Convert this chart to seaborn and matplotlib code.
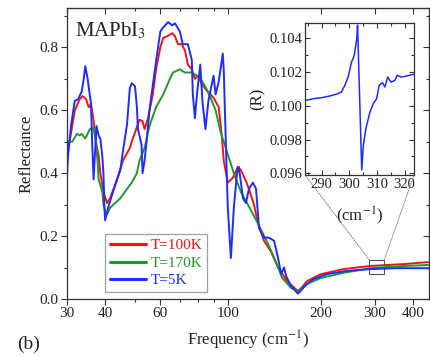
import numpy as np
import pandas as pd
import matplotlib
matplotlib.use("Agg")
import matplotlib.pyplot as plt
import seaborn as sns
from matplotlib.patches import Rectangle, ConnectionPatch
from matplotlib.ticker import FixedLocator, NullFormatter, MultipleLocator

# ---- reflectance spectra of MAPbI3 (frequency in cm^-1) ----
freq_100K = [30, 30.7, 31.8, 33.0, 33.7, 34.6, 35.3, 35.9, 36.5, 37.4, 38.0, 38.5,
             39.4, 40.5, 41.4, 43.6, 45.6, 48.0, 48.7, 51.6, 52.8, 53.6, 55.0, 57.0,
             58.4, 60.3, 61.6, 63.4, 65.9, 67.3, 68.8, 70.8, 72.5, 74.1, 76.3, 78.1,
             79.9, 82.6, 85.8, 89.8, 93.3, 95.5, 96.9, 99.9, 103.7, 107.7, 110.2,
             114.4, 117.0, 121.5, 125.2, 131.0, 138.1, 145.5, 155.6, 168.9, 175.0,
             180.7, 200.6, 237, 290, 373, 444, 450]
r_100K = [0.45, 0.51, 0.60, 0.635, 0.645, 0.635, 0.61, 0.62, 0.575, 0.49, 0.455, 0.40,
          0.34, 0.305, 0.32, 0.38, 0.44, 0.48, 0.50, 0.57, 0.565, 0.54, 0.575, 0.65,
          0.73, 0.80, 0.83, 0.835, 0.845, 0.835, 0.81, 0.81, 0.79, 0.745, 0.73, 0.70,
          0.71, 0.68, 0.66, 0.64, 0.61, 0.52, 0.44, 0.37, 0.385, 0.42, 0.41,
          0.375, 0.35, 0.30, 0.24, 0.185, 0.15, 0.10, 0.057, 0.025, 0.04,
          0.057, 0.079, 0.095, 0.105, 0.111, 0.117, 0.117]

freq_170K = [30, 31.2, 32.3, 33.0, 33.5, 34.4, 35.6, 36.5, 37.1, 37.7, 38.0, 39.1,
             39.4, 39.9, 40.5, 41.4, 43.0, 44.7, 47.0, 48.7, 50.6, 51.6, 53.6, 55.6,
             58.4, 61.6, 64.8, 66.3, 69.8, 72.5, 76.3, 79.3, 81.3, 84.5, 87.8, 91.2,
             94.7, 98.4, 100.6, 104.5, 110.2, 116.1, 125.2, 135.0, 140.0, 145.5, 150,
             160.4, 168.9, 180.7, 200.6, 237, 290, 373, 444, 450]
r_170K = [0.50, 0.50, 0.525, 0.52, 0.525, 0.51, 0.54, 0.545, 0.51, 0.44, 0.38, 0.34,
          0.30, 0.28, 0.27, 0.29, 0.305, 0.32, 0.35, 0.37, 0.40, 0.44, 0.48, 0.55,
          0.61, 0.65, 0.70, 0.72, 0.73, 0.72, 0.72, 0.71, 0.70, 0.675, 0.64, 0.60,
          0.53, 0.48, 0.45, 0.40, 0.34, 0.30, 0.24, 0.175, 0.14, 0.10, 0.067,
          0.035, 0.025, 0.048, 0.067, 0.083, 0.098, 0.105, 0.108, 0.108]

freq_5K = [30, 30.2, 30.9, 31.8, 32.6, 33.5, 34.0, 34.4, 35.0, 35.9, 36.2, 36.6,
           37.4, 38.0, 38.5, 39.1, 39.4, 39.7, 39.9, 40.8, 42.3, 44.7, 45.6, 47.0,
           48.0, 48.7, 49.9, 50.6, 51.0, 52.4, 52.8, 53.6, 54.4, 55.6, 57.0, 58.4,
           60.3, 61.2, 63.9, 65.9, 67.3, 69.8, 71.3, 74.1, 76.3, 76.9, 78.1, 79.3,
           81.3, 82.6, 84.5, 86.4, 89.8, 91.2, 93.3, 96.2, 96.9, 98.4, 99.9, 102.2,
           104.5, 107.0, 108.5, 111.9, 114.4, 117.0, 120.6, 123.4, 126.2, 131.0,
           136.0, 141.2, 145.5, 148.8, 152.2, 154.5, 160.4, 168.9, 179.4, 189.5,
           209.5, 242, 290, 353, 444, 450]
r_5K = [0.39, 0.45, 0.55, 0.63, 0.635, 0.66, 0.70, 0.74, 0.70, 0.62, 0.50, 0.38,
        0.55, 0.52, 0.51, 0.45, 0.40, 0.29, 0.25, 0.29, 0.34, 0.41, 0.47, 0.555,
        0.67, 0.686, 0.676, 0.61, 0.54, 0.49, 0.40, 0.44, 0.50, 0.60, 0.68, 0.755,
        0.85, 0.86, 0.88, 0.87, 0.876, 0.85, 0.81, 0.81, 0.76, 0.65, 0.575, 0.65,
        0.745, 0.63, 0.54, 0.63, 0.71, 0.65, 0.69, 0.78, 0.73, 0.50, 0.29, 0.13,
        0.29, 0.40, 0.42, 0.32, 0.305, 0.35, 0.37, 0.35, 0.225, 0.195,
        0.195, 0.185, 0.13, 0.08, 0.10, 0.073, 0.041, 0.017, 0.045, 0.063,
        0.079, 0.089, 0.095, 0.098, 0.098, 0.098]

# ---- zoomed 5 K spectrum around the 305 cm^-1 feature ----
inset_freq = [284.3, 287.0, 290.0, 293.0, 296.0, 297.2, 298.4, 299.6, 300.8, 301.8,
              302.7, 303.0, 304.5, 305.1, 306.0, 307.5, 308.7, 309.9, 310.8, 312.0,
              312.9, 313.9, 315.1, 316.5, 317.3, 318.9, 320.7, 322.5, 323.4]
inset_r = [0.10032, 0.10042, 0.10048, 0.10058, 0.10072, 0.10082, 0.10121, 0.10170,
           0.10258, 0.10298, 0.10396, 0.10478, 0.09620, 0.09767, 0.09865, 0.09964,
           0.10013, 0.10042, 0.10121, 0.10137, 0.10111, 0.10170, 0.10140, 0.10150,
           0.10180, 0.10170, 0.10176, 0.10184, 0.10186]

labels = ["T=100K", "T=170K", "T=5K"]
colors = ["#f01414", "#1f9a2a", "#1e2cff"]
x_ticks = [30, 40, 60, 100, 200, 300, 400]
x_minor = [50, 70, 80, 90]

df = pd.concat([
    pd.DataFrame({"freq": freq_100K, "R": r_100K, "T": labels[0]}),
    pd.DataFrame({"freq": freq_170K, "R": r_170K, "T": labels[1]}),
    pd.DataFrame({"freq": freq_5K, "R": r_5K, "T": labels[2]}),
])

sns.set_style("ticks")
plt.rcParams["font.family"] = ["Liberation Serif", "DejaVu Serif"]
plt.rcParams["mathtext.fontset"] = "stix"
plt.rcParams["axes.edgecolor"] = "#333333"
plt.rcParams["xtick.color"] = "#333333"
plt.rcParams["ytick.color"] = "#333333"

fig = plt.figure(figsize=(4.31, 3.57), dpi=100)
ax = fig.add_axes([67 / 431, 1 - 299 / 357, 362 / 431, 291 / 357])

sns.lineplot(data=df, x="freq", y="R", hue="T", palette=dict(zip(labels, colors)),
             estimator=None, linewidth=1.4, ax=ax, legend=True)

ax.set_xscale("log")
ax.set_xlim(30, 450)
ax.set_ylim(0, 0.925)
ax.xaxis.set_major_locator(FixedLocator(x_ticks))
ax.set_xticklabels([str(t) for t in x_ticks])
ax.xaxis.set_minor_locator(FixedLocator(x_minor))
ax.xaxis.set_minor_formatter(NullFormatter())
ax.yaxis.set_major_locator(MultipleLocator(0.2))
ax.yaxis.set_minor_locator(MultipleLocator(0.1))
ax.set_yticks([0.0, 0.2, 0.4, 0.6, 0.8])
ax.set_yticklabels(["0.0", "0.2", "0.4", "0.6", "0.8"])
ax.tick_params(axis="both", which="major", direction="out", length=4, width=0.8,
               labelsize=11, pad=2, labelcolor="#222222")
ax.tick_params(axis="both", which="minor", direction="out", length=2.5, width=0.8)
for s in ax.spines.values():
    s.set_linewidth(0.9)

# mirrored inward ticks on top and right
top = ax.secondary_xaxis("top")
top.xaxis.set_major_locator(FixedLocator(x_ticks))
top.xaxis.set_minor_locator(FixedLocator(x_minor))
top.tick_params(which="both", direction="in", labeltop=False, length=4, width=0.8)
top.tick_params(which="minor", length=2.5)
right = ax.secondary_yaxis("right")
right.yaxis.set_major_locator(MultipleLocator(0.2))
right.yaxis.set_minor_locator(MultipleLocator(0.1))
right.tick_params(which="both", direction="in", labelright=False, length=4, width=0.8)
right.tick_params(which="minor", length=2.5)

ax.set_xlabel("Frequency (cm$^{-1}$)", fontsize=12, labelpad=6, color="#222222")
ax.set_ylabel("Reflectance", fontsize=12, labelpad=4, color="#222222")

ax.text(0.022, 0.955, "MAPbI$_3$", transform=ax.transAxes, ha="left", va="top",
        fontsize=15, color="#222222")
fig.text(29 / 431, 1 - 344 / 357, "(b)", ha="center", va="center", fontsize=14,
         color="#222222")

leg = ax.legend(loc="lower left", bbox_to_anchor=(0.105, 0.024), borderaxespad=0,
                fontsize=11, frameon=True, fancybox=False, edgecolor="#888888",
                handlelength=2.4, handletextpad=0.3, labelspacing=0.25,
                borderpad=0.3, title=None)
leg.get_frame().set_linewidth(0.9)
for txt, c in zip(leg.get_texts(), colors):
    txt.set_color(c)
for line in leg.get_lines():
    line.set_linewidth(2.2)

# marker box around the zoomed region
ax.add_patch(Rectangle((288, 0.08), 322 - 288, 0.124 - 0.08, fill=False,
                       edgecolor="#555555", linewidth=0.8))

# inset
axin = fig.add_axes([305 / 431, 1 - 175 / 357, 109 / 431, 152 / 357])
sns.lineplot(x=inset_freq, y=inset_r, color=colors[2], linewidth=1.1, ax=axin,
             estimator=None)
axin.set_xlim(284, 323.4)
axin.set_ylim(0.0959, 0.1049)
axin.set_xticks([290, 300, 310, 320])
axin.xaxis.set_minor_locator(MultipleLocator(5))
axin.set_yticks([0.096, 0.098, 0.100, 0.102, 0.104])
axin.set_yticklabels(["0.096", "0.098", "0.100", "0.102", "0.104"])
axin.yaxis.set_minor_locator(MultipleLocator(0.001))
axin.tick_params(which="both", direction="in", top=True, right=True, width=0.8,
                 labelsize=10.5, pad=2, labelcolor="#222222")
axin.tick_params(which="major", length=3.5)
axin.tick_params(which="minor", length=2)
for s in axin.spines.values():
    s.set_linewidth(0.9)
axin.set_xlabel("(cm$^{-1}$)", fontsize=12, labelpad=10, color="#222222")
axin.set_ylabel("(R)", fontsize=12, labelpad=3, color="#222222")

for xa, xb in [(288, 0.0), (322, 1.0)]:
    con = ConnectionPatch(xyA=(xa, 0.124), coordsA=ax.transData,
                          xyB=(xb, 0.0), coordsB=axin.transAxes,
                          linestyle=(0, (1, 1.5)), color="#777777", linewidth=0.7)
    fig.add_artist(con)

fig.savefig("out.png", dpi=100)
